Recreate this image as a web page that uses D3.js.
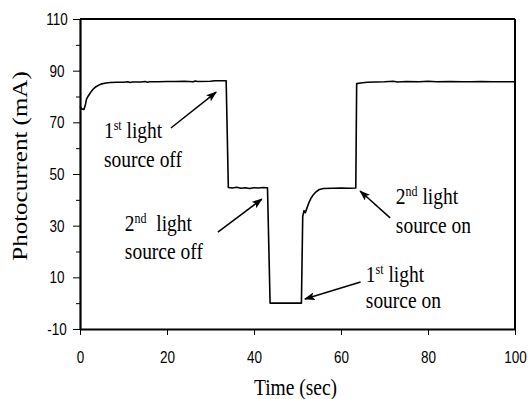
<!DOCTYPE html>
<html>
<head>
<meta charset="utf-8">
<script src="https://cdn.jsdelivr.net/npm/d3@7"></script>
<style>
  body { margin: 0; background: #fff; }
  svg { display: block; }
</style>
</head>
<body>
<svg id="chart" width="528" height="399"></svg>
<script>
// data
var timeSec = [0, 0.4, 0.9, 1.2, 1.5, 1.9, 2.4, 3.0, 3.6, 4.3, 5.0, 6.0, 7.0, 8.5, 10, 11, 11.5, 12, 14, 15, 15.5, 16, 18, 20, 22, 24, 26, 26.5, 27, 30, 31, 33.6,
  34.1, 35, 36, 37, 38, 39, 40, 41, 42, 43.1,
  43.7, 50.9,
  51.2, 51.5, 51.8, 52.1, 52.6, 53.1, 53.6, 54.2, 55.0, 56.0, 58, 60, 62, 63.4,
  63.6, 64.5, 66, 68, 70, 72, 73, 75, 78, 80, 82, 85, 88, 90, 92, 95, 100]
var photocurrent = [76.2, 75.2, 75.0, 76.5, 79.0, 80.2, 81.5, 82.8, 83.7, 84.4, 84.9, 85.2, 85.4, 85.5, 85.5, 85.7, 85.4, 85.6, 85.6, 85.8, 85.5, 85.7, 85.7, 85.8, 85.8, 85.9, 85.7, 86.0, 85.8, 85.9, 86.1, 86.1,
  44.8, 44.6, 44.9, 44.5, 44.7, 44.4, 44.7, 44.6, 44.8, 44.7,
  0, 0,
  33.5, 35.8, 35.0, 36.5, 38.8, 40.6, 41.9, 43.0, 44.0, 44.4, 44.5, 44.6, 44.5, 44.6,
  85.0, 85.2, 85.5, 85.6, 85.7, 85.9, 85.6, 85.8, 85.7, 85.9, 85.7, 85.8, 85.7, 85.7, 85.8, 85.7, 85.7]

var xTicks = [0, 20, 40, 60, 80, 100]
var yTicks = [-10, 10, 30, 50, 70, 90, 110]
var yMinorTicks = [0, 20, 40, 60, 80, 100]

// annotations in data units: text anchor, arrow tail, arrow head
var annotations = [
  { num: '1', sup: 'st', rest: ' light', line2: 'source off', at: [5.5, 63.9], gap: 11.2, tail: [20.9, 67.8], head: [31.3, 81.7] },
  { num: '2', sup: 'nd', rest: '  light', line2: 'source off', at: [10.3, 27.9], gap: 10.8, tail: [31.7, 27.5], head: [41.8, 40.3] },
  { num: '2', sup: 'nd', rest: ' light', line2: 'source on', at: [72.6, 38.4], gap: 11.2, tail: [71.3, 33.0], head: [64.4, 43.4] },
  { num: '1', sup: 'st', rest: ' light', line2: 'source on', at: [65.7, 8.2], gap: 10.2, tail: [64.5, 8.2], head: [51.7, 1.6] }
]

var plotLeft = 80, plotRight = 515, plotTop = 19, plotBottom = 329
var serif = '"Liberation Serif", "Times New Roman", serif'
var sans = '"Liberation Sans", Arial, sans-serif'

var svg = d3.select('#chart')

svg.append('defs').append('marker')
  .attr('id', 'arrow')
  .attr('markerUnits', 'userSpaceOnUse')
  .attr('markerWidth', 11)
  .attr('markerHeight', 8)
  .attr('refX', 10)
  .attr('refY', 4)
  .attr('orient', 'auto')
  .append('path')
  .attr('d', 'M0,0 L11,4 L0,8 L2.5,4 Z')
  .attr('fill', '#000')

var x = d3.scaleLinear().domain([0, 100]).range([plotLeft, plotRight])
var y = d3.scaleLinear().domain([-10, 110]).range([plotBottom, plotTop])

// frame top / right
svg.append('line')
  .attr('x1', plotLeft).attr('x2', plotRight).attr('y1', plotTop).attr('y2', plotTop)
  .attr('stroke', '#000').attr('stroke-width', 2)
svg.append('line')
  .attr('x1', plotRight).attr('x2', plotRight).attr('y1', plotTop).attr('y2', plotBottom)
  .attr('stroke', '#000').attr('stroke-width', 2)

// x axis
var xAxis = svg.append('g')
  .attr('transform', `translate(0, ${plotBottom})`)
  .call(d3.axisBottom(x).tickValues(xTicks).tickSize(6).tickSizeOuter(0).tickFormat((d) => String(d)))
xAxis.select('.domain').attr('stroke-width', 2.2)
xAxis.selectAll('.tick line').attr('stroke-width', 1)
xAxis.selectAll('.tick text')
  .attr('y', null).attr('dy', null)
  .attr('transform', 'translate(0, 34) scale(1, 1.2)')
  .style('font-family', sans).style('font-size', '13.5px').attr('fill', '#000')

// y axis, major (plain hyphen for the negative label, as in the picture)
var yAxis = svg.append('g')
  .attr('transform', `translate(${plotLeft}, 0)`)
  .call(d3.axisLeft(y).tickValues(yTicks).tickSize(7).tickSizeOuter(0).tickFormat((d) => String(d)))
yAxis.select('.domain').attr('stroke-width', 2.2)
yAxis.selectAll('.tick line').attr('stroke-width', 1)
yAxis.selectAll('.tick text')
  .attr('x', null).attr('dy', null)
  .attr('text-anchor', 'middle')
  .attr('transform', 'translate(-23, 5.5) scale(1, 1.2)')
  .style('font-family', sans).style('font-size', '13.5px').attr('fill', '#000')

// y axis, minor
var yMinor = svg.append('g')
  .attr('transform', `translate(${plotLeft}, 0)`)
  .call(d3.axisLeft(y).tickValues(yMinorTicks).tickSize(4).tickFormat(''))
yMinor.select('.domain').remove()

// the trace
var points = timeSec.map((t, i) => [t, photocurrent[i]])
var line = d3.line().x((d) => x(d[0])).y((d) => y(d[1]))
svg.append('path')
  .datum(points)
  .attr('d', line)
  .attr('fill', 'none')
  .attr('stroke', '#000')
  .attr('stroke-width', 1.6)
  .attr('stroke-linejoin', 'round')

// axis titles
svg.append('text')
  .attr('transform', `translate(${(plotLeft + plotRight) / 2 - 2}, 395) scale(1, 1.2)`)
  .attr('text-anchor', 'middle')
  .style('font-family', serif).style('font-size', '19.5px')
  .text('Time (sec)')

svg.append('text')
  .attr('transform', 'translate(27, 166) rotate(-90) scale(1.25, 1)')
  .attr('text-anchor', 'middle')
  .style('font-family', serif).style('font-size', '20px')
  .text('Photocurrent (mA)')

// annotations
annotations.forEach(function (a) {
  var tx = x(a.at[0]), ty = y(a.at[1])
  var t1 = svg.append('text')
    .attr('transform', `translate(${tx}, ${ty}) scale(1, 1.2)`)
    .style('font-family', serif).style('font-size', '19.5px')
    .style('white-space', 'pre')
  t1.append('tspan').text(a.num)
  t1.append('tspan').attr('dy', -7).style('font-size', '12px').text(a.sup)
  t1.append('tspan').attr('dy', 7).text(a.rest)

  svg.append('text')
    .attr('transform', `translate(${tx}, ${y(a.at[1] - a.gap)}) scale(1, 1.2)`)
    .style('font-family', serif).style('font-size', '19.5px')
    .text(a.line2)

  svg.append('line')
    .attr('x1', x(a.tail[0])).attr('y1', y(a.tail[1]))
    .attr('x2', x(a.head[0])).attr('y2', y(a.head[1]))
    .attr('stroke', '#000').attr('stroke-width', 1.5)
    .attr('marker-end', 'url(#arrow)')
})
</script>
</body>
</html>
